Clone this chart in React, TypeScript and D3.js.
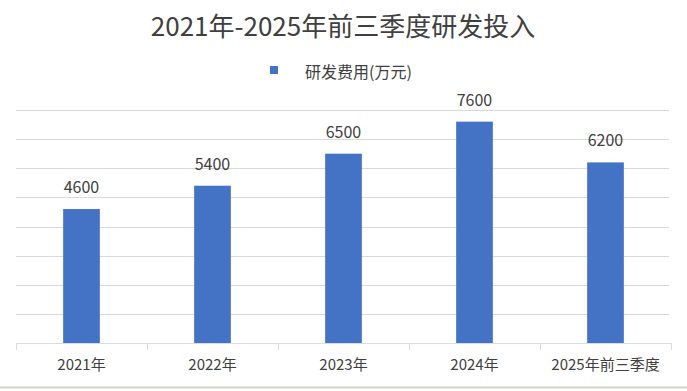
import React from "react";
import * as d3 from "d3";

const categories = ["2021年", "2022年", "2023年", "2024年", "2025年前三季度"];
const values = [4600, 5400, 6500, 7600, 6200];
const yTicks = [0, 1000, 2000, 3000, 4000, 5000, 6000, 7000, 8000];
const seriesName = "研发费用(万元)";
const title = "2021年-2025年前三季度研发投入";

const W = 687;
const H = 391;
const FONT = "'Noto Sans CJK SC', 'Noto Sans', sans-serif";

export default function App() {
  const left = 16;
  const right = 671;
  const top = 110;
  const bottom = 343;
  const x = d3.scaleBand<string>().domain(categories).range([left, right]).paddingInner(0).paddingOuter(0);
  const y = d3.scaleLinear().domain([0, 8000]).range([bottom, top]);
  const bw = x.bandwidth() * 0.28;
  return (
    <svg width={W} height={H} style={{ position: "absolute", left: 0, top: 0, background: "#fff" }} fontFamily={FONT}>
      <rect x={0} y={0} width={W} height={H} fill="#fff" />
      <text x={343} y={36} textAnchor="middle" fontSize={26} fill="#404040">{title}</text>
      <rect x={270} y={66} width={8} height={8} fill="#4472c4" />
      <text x={305} y={78} fontSize={16} fill="#404040">{seriesName}</text>
      {yTicks.slice(1).map((t) => (
        <line key={t} x1={left} x2={right - 2} y1={Math.round(y(t)) + 0.5} y2={Math.round(y(t)) + 0.5} stroke="#d9d9d9" strokeWidth={1} />
      ))}
      {categories.map((c, i) => {
        const cx = (x(c) as number) + x.bandwidth() / 2;
        return (
          <g key={c}>
            <rect x={cx - bw / 2} y={y(values[i])} width={bw} height={bottom - y(values[i])} fill="#4472c4" />
            <text x={cx} y={y(values[i]) - 16} textAnchor="middle" fontSize={16} fill="#404040">{values[i]}</text>
            <text x={cx} y={370} textAnchor="middle" fontSize={15} fill="#404040">{c}</text>
          </g>
        );
      })}
      <line x1={left} x2={right} y1={bottom + 0.5} y2={bottom + 0.5} stroke="#d6dcee" strokeWidth={1.2} />
      {d3.range(categories.length + 1).map((i) => {
        const tx = Math.round(left + i * x.bandwidth()) + 0.5;
        return <line key={i} x1={tx} x2={tx} y1={bottom} y2={bottom + 7} stroke="#d6dcee" strokeWidth={1} />;
      })}
      <line x1={0} x2={W} y1={387.5} y2={387.5} stroke="#cfd6c8" strokeWidth={2} />
    </svg>
  );
}
